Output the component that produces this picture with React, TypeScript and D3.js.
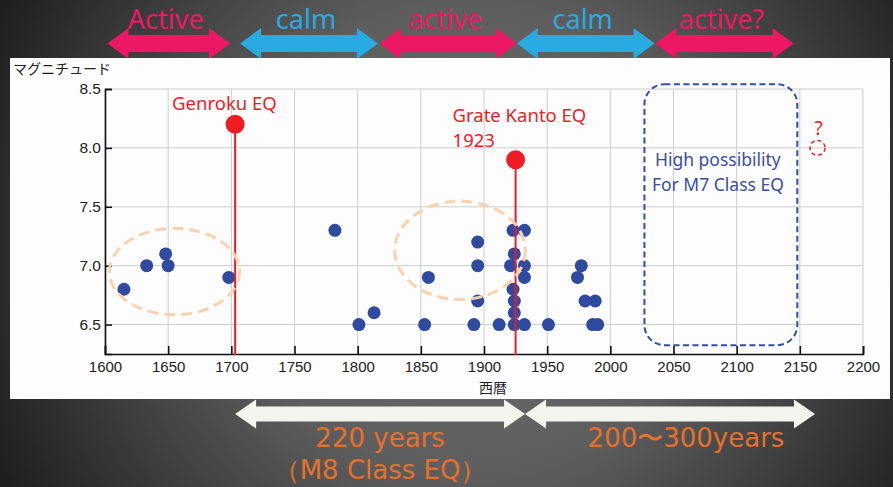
import { useEffect, useRef } from 'react'
import * as d3 from 'd3'

const W = 893
const H = 487
const PANEL = { x: 10, y: 58, w: 880, h: 341 }
const PLOT = { left: 105, right: 863, top: 89, bottom: 354 }

const PINK = '#ec1864'
const BLUE = '#29abe2'
const RED = '#ee1c25'
const DOT = '#2f4a9e'
const ORANGE = '#e8702a'

const X_TICKS = [1600, 1650, 1700, 1750, 1800, 1850, 1900, 1950, 2000, 2050, 2100, 2150, 2200]
const Y_TICKS = [6.5, 7.0, 7.5, 8.0, 8.5]

// [year, magnitude]
const QUAKES: [number, number][] = [
  [1615, 6.8], [1633, 7.0], [1648, 7.1], [1650, 7.0], [1698, 6.9],
  [1782, 7.3], [1801, 6.5], [1813, 6.6], [1853, 6.5], [1856, 6.9],
  [1892, 6.5], [1895, 6.7], [1895, 7.0], [1895, 7.2], [1912, 6.5],
  [1923, 7.3], [1932, 7.3], [1924, 7.1], [1921, 7.0], [1932, 7.0],
  [1932, 6.9], [1923, 6.8], [1924, 6.7], [1924, 6.6], [1924, 6.5],
  [1932, 6.5], [1951, 6.5], [1974, 6.9], [1977, 7.0], [1980, 6.7],
  [1988, 6.7], [1986, 6.5], [1990, 6.5],
]

const GREAT_QUAKES = [
  { year: 1703, mag: 8.2, label: ['Genroku EQ'], dy: -14 },
  { year: 1925, mag: 7.9, label: ['Grate Kanto EQ', '1923'], dy: -38 },
]

const CLUSTERS = [
  { year: 1655, mag: 6.95, rYears: 51.5, rMag: 0.367 },
  { year: 1881, mag: 7.13, rYears: 51.7, rMag: 0.417 },
]

const FORECAST = { from: 2027, to: 2148, magLo: 6.325, magHi: 8.54, lines: ['High possibility', 'For M7 Class EQ'] }
const FUTURE = { year: 2164, mag: 8.0 }

const PERIODS = [
  { label: 'Active', from: 1602, to: 1699, color: PINK },
  { label: 'calm', from: 1707, to: 1816, color: BLUE },
  { label: 'active', from: 1817.5, to: 1926, color: PINK },
  { label: 'calm', from: 1926, to: 2035, color: BLUE },
  { label: 'active?', from: 2035.5, to: 2145, color: PINK },
]

const SPANS = [
  { from: 1703, to: 1932.5, lines: ['220 years', '（M8 Class EQ）'], dx: 0 },
  { from: 1932.5, to: 2162, lines: ['200〜300years'], dx: 16 },
]

function dblArrow(x1: number, x2: number, cy: number, sh: number, hh: number, hl: number) {
  return `M${x1},${cy} L${x1 + hl},${cy - hh} L${x1 + hl},${cy - sh} L${x2 - hl},${cy - sh} L${x2 - hl},${cy - hh} ` +
    `L${x2},${cy} L${x2 - hl},${cy + hh} L${x2 - hl},${cy + sh} L${x1 + hl},${cy + sh} L${x1 + hl},${cy + hh} Z`
}

export default function App() {
  const svgRef = useRef<SVGSVGElement>(null)

  useEffect(() => {
    const svgEl = svgRef.current
    if (!svgEl) return
    const svg = d3.select(svgEl)
    svg.selectAll('*').remove()

    const x = d3.scaleLinear([1600, 2200], [PLOT.left, PLOT.right])
    const y = d3.scaleLinear([6.25, 8.5], [PLOT.bottom, PLOT.top])

    // ── Background ──────────────────────────────────────────────────────────
    const grad = svg.append('defs').append('radialGradient')
      .attr('id', 'bg').attr('gradientUnits', 'userSpaceOnUse')
      .attr('cx', 470).attr('cy', 240).attr('r', 520)
    grad.append('stop').attr('offset', '0%').attr('stop-color', '#707070')
    grad.append('stop').attr('offset', '45%').attr('stop-color', '#5e5e5e')
    grad.append('stop').attr('offset', '100%').attr('stop-color', '#1f1f1f')
    svg.append('rect').attr('width', W).attr('height', H).attr('fill', 'url(#bg)')

    // ── Top period arrows ───────────────────────────────────────────────────
    PERIODS.forEach(p => {
      svg.append('path')
        .attr('d', dblArrow(x(p.from), x(p.to), 43.5, 8.5, 15.5, 21))
        .attr('fill', p.color)
      svg.append('text')
        .attr('x', (x(p.from) + x(p.to)) / 2 - 3).attr('y', 29)
        .attr('text-anchor', 'middle').attr('fill', p.color)
        .attr('font-family', '"Noto Sans", sans-serif').attr('font-size', 27)
        .text(p.label)
    })

    // ── White panel ─────────────────────────────────────────────────────────
    svg.append('rect')
      .attr('x', PANEL.x).attr('y', PANEL.y).attr('width', PANEL.w).attr('height', PANEL.h)
      .attr('fill', '#fdfdfd')

    // ── Bottom span arrows ──────────────────────────────────────────────────
    SPANS.forEach(s => {
      svg.append('path')
        .attr('d', dblArrow(x(s.from), x(s.to), 414, 7.5, 14.5, 21))
        .attr('fill', '#f4f4ee')
      s.lines.forEach((line, i) => {
        svg.append('text')
          .attr('x', (x(s.from) + x(s.to)) / 2 + s.dx).attr('y', 447 + i * 32)
          .attr('text-anchor', 'middle').attr('fill', ORANGE)
          .attr('font-family', '"DejaVu Sans", sans-serif').attr('font-size', 26)
          .text(line)
      })
    })

    const g = svg.append('g')

    // ── Grid ────────────────────────────────────────────────────────────────
    X_TICKS.forEach(t => {
      g.append('line')
        .attr('x1', x(t)).attr('x2', x(t)).attr('y1', PLOT.top).attr('y2', PLOT.bottom)
        .attr('stroke', '#cdcdcd').attr('stroke-width', 1)
    })
    Y_TICKS.forEach(t => {
      g.append('line')
        .attr('x1', PLOT.left).attr('x2', PLOT.right).attr('y1', y(t)).attr('y2', y(t))
        .attr('stroke', '#cdcdcd').attr('stroke-width', 1)
    })

    // ── Axes ────────────────────────────────────────────────────────────────
    g.append('g')
      .attr('transform', `translate(0,${PLOT.bottom})`)
      .call(d3.axisBottom(x).tickValues(X_TICKS).tickSize(-8).tickPadding(7).tickFormat(d => `${d}`))
      .call(ag => ag.select('.domain').attr('stroke', '#111').attr('stroke-width', 1.6))
      .call(ag => ag.selectAll('.tick line').attr('stroke', '#111').attr('stroke-width', 1.6))
      .call(ag => ag.selectAll('text').attr('fill', '#222').attr('font-size', 15)
        .attr('font-family', '"Liberation Sans", Arial, sans-serif'))

    g.append('g')
      .attr('transform', `translate(${PLOT.left},0)`)
      .call(d3.axisLeft(y).tickValues(Y_TICKS).tickSize(-7).tickPadding(4).tickFormat(d3.format('.1f')))
      .call(ag => ag.select('.domain').attr('stroke', '#111').attr('stroke-width', 1.6))
      .call(ag => ag.selectAll('.tick line').attr('stroke', '#111').attr('stroke-width', 1.6))
      .call(ag => ag.selectAll('text').attr('fill', '#222').attr('font-size', 15.5)
        .attr('font-family', '"Liberation Sans", Arial, sans-serif'))

    g.append('text')
      .attr('x', 13).attr('y', 74)
      .attr('fill', '#222').attr('font-size', 14)
      .attr('font-family', '"Noto Sans CJK JP", sans-serif')
      .text('マグニチュード')

    g.append('text')
      .attr('x', (PLOT.left + PLOT.right) / 2 + 9).attr('y', 393)
      .attr('text-anchor', 'middle').attr('fill', '#222').attr('font-size', 14)
      .attr('font-family', '"Noto Sans CJK JP", sans-serif')
      .text('西暦')

    // ── Quakes ──────────────────────────────────────────────────────────────
    g.append('g').selectAll('circle')
      .data(QUAKES)
      .join('circle')
      .attr('cx', d => x(d[0])).attr('cy', d => y(d[1])).attr('r', 6.5)
      .attr('fill', DOT)

    // ── Great quakes ────────────────────────────────────────────────────────
    GREAT_QUAKES.forEach(q => {
      g.append('line')
        .attr('x1', x(q.year)).attr('x2', x(q.year)).attr('y1', y(q.mag)).attr('y2', PLOT.bottom + 1)
        .attr('stroke', RED).attr('stroke-width', 2)
      g.append('circle')
        .attr('cx', x(q.year)).attr('cy', y(q.mag)).attr('r', 9.5)
        .attr('fill', RED)
      q.label.forEach((line, i) => {
        g.append('text')
          .attr('x', x(q.year) - 63).attr('y', y(q.mag) + q.dy + i * 25)
          .attr('fill', RED).attr('font-size', 18.5)
          .attr('font-family', '"Noto Sans", sans-serif')
          .text(line)
      })
    })

    // ── Cluster ellipses ────────────────────────────────────────────────────
    CLUSTERS.forEach(c => {
      g.append('ellipse')
        .attr('cx', x(c.year)).attr('cy', y(c.mag))
        .attr('rx', x(c.year + c.rYears) - x(c.year))
        .attr('ry', y(c.mag) - y(c.mag + c.rMag))
        .attr('fill', 'none').attr('stroke', '#fbd2ad').attr('stroke-width', 3)
        .attr('stroke-dasharray', '11,6')
    })

    // ── Forecast box ────────────────────────────────────────────────────────
    g.append('rect')
      .attr('x', x(FORECAST.from)).attr('y', y(FORECAST.magHi))
      .attr('width', x(FORECAST.to) - x(FORECAST.from))
      .attr('height', y(FORECAST.magLo) - y(FORECAST.magHi))
      .attr('rx', 20).attr('ry', 20)
      .attr('fill', 'none').attr('stroke', '#2f4ea5').attr('stroke-width', 2)
      .attr('stroke-dasharray', '6,3.5')
    FORECAST.lines.forEach((line, i) => {
      g.append('text')
        .attr('x', (x(FORECAST.from) + x(FORECAST.to)) / 2 - 3).attr('y', 166 + i * 25)
        .attr('text-anchor', 'middle').attr('fill', '#3a4ea0').attr('font-size', 17.5)
        .attr('font-family', '"Noto Sans", sans-serif')
        .text(line)
    })

    // ── Future unknown ──────────────────────────────────────────────────────
    g.append('circle')
      .attr('cx', x(FUTURE.year)).attr('cy', y(FUTURE.mag)).attr('r', 7.5)
      .attr('fill', 'none').attr('stroke', RED).attr('stroke-width', 1.5)
      .attr('stroke-dasharray', '4,3')
    g.append('text')
      .attr('x', x(FUTURE.year) + 1).attr('y', y(FUTURE.mag) - 13)
      .attr('text-anchor', 'middle').attr('fill', RED).attr('font-size', 19)
      .attr('font-family', '"Noto Sans", sans-serif')
      .text('?')
  }, [])

  return (
    <div style={{ position: 'absolute', left: 0, top: 0, width: W, height: H }}>
      <svg ref={svgRef} width={W} height={H} style={{ display: 'block' }} />
    </div>
  )
}
